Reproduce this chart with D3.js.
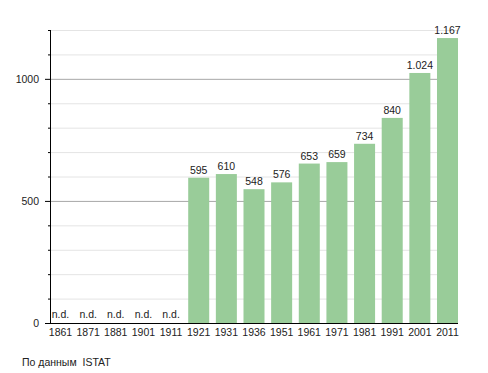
<!DOCTYPE html>
<html>
<head>
<meta charset="utf-8">
<script src="https://cdn.jsdelivr.net/npm/d3@7"></script>
<style>
  body { margin: 0; background: #fff; }
  text { font-family: "Liberation Sans", Arial, sans-serif; }
</style>
</head>
<body>
<div id="viz"></div>
<script>
const years = ['1861','1871','1881','1901','1911','1921','1931','1936','1951','1961','1971','1981','1991','2001','2011'];
const population = [null,null,null,null,null,595,610,548,576,653,659,734,840,1024,1167];
const majorTicks = [0,500,1000];
const source = 'По данным  ISTAT';

const SETTINGS = {
    width: 488,
    height: 373,
    left: 50,
    right: 458,
    top: 30,
    bottom: 323,
    fontSize: 10.5,
    barColor: '#99cc99'
};

let svg = d3.select('#viz')
    .append('svg')
    .attr('width', SETTINGS.width)
    .attr('height', SETTINGS.height);

let xScale = d3.scaleBand()
    .domain(years)
    .range([SETTINGS.left, SETTINGS.right])
    .paddingInner(0.24)
    .paddingOuter(0);

let yScale = d3.scaleLinear()
    .domain([0, 1200])
    .range([SETTINGS.bottom, SETTINGS.top]);

const allTicks = d3.range(0, 1201, 100);
const fmt = d3.formatLocale({decimal: ',', thousands: '.', grouping: [3], currency: ['', '']}).format(',d');

// grid lines
svg.selectAll('.grid')
    .data(allTicks.filter(d => d > 0))
    .enter()
    .append('line')
    .attr('class', 'grid')
    .attr('x1', SETTINGS.left)
    .attr('x2', SETTINGS.right)
    .attr('y1', d => yScale(d) + 0.5)
    .attr('y2', d => yScale(d) + 0.5)
    .attr('stroke', d => majorTicks.includes(d) ? '#a8a8a8' : '#e4e4e4')
    .attr('stroke-width', 1);

// bars
svg.selectAll('.bar')
    .data(years.map((y, i) => ({year: y, value: population[i]})).filter(d => d.value !== null))
    .enter()
    .append('rect')
    .attr('class', 'bar')
    .attr('x', d => xScale(d.year))
    .attr('y', d => yScale(d.value))
    .attr('width', xScale.bandwidth())
    .attr('height', d => SETTINGS.bottom - yScale(d.value))
    .attr('fill', SETTINGS.barColor);

// value labels (n.d. where missing)
svg.selectAll('.vals')
    .data(years.map((y, i) => ({year: y, value: population[i]})))
    .enter()
    .append('text')
    .attr('class', 'vals')
    .attr('x', d => xScale(d.year) + xScale.bandwidth() / 2)
    .attr('y', d => d.value === null ? SETTINGS.bottom - 5 : yScale(d.value) - 4)
    .attr('text-anchor', 'middle')
    .attr('font-size', SETTINGS.fontSize)
    .attr('fill', '#222')
    .text(d => d.value === null ? 'n.d.' : fmt(d.value));

// y axis
svg.append('line')
    .attr('x1', SETTINGS.left + 0.5)
    .attr('x2', SETTINGS.left + 0.5)
    .attr('y1', SETTINGS.top)
    .attr('y2', SETTINGS.bottom + 1)
    .attr('stroke', '#000');

svg.selectAll('.ytick')
    .data(allTicks)
    .enter()
    .append('line')
    .attr('class', 'ytick')
    .attr('x1', d => majorTicks.includes(d) ? SETTINGS.left - 5 : SETTINGS.left - 2)
    .attr('x2', SETTINGS.left)
    .attr('y1', d => yScale(d) + 0.5)
    .attr('y2', d => yScale(d) + 0.5)
    .attr('stroke', '#000');

svg.selectAll('.ylab')
    .data(majorTicks)
    .enter()
    .append('text')
    .attr('class', 'ylab')
    .attr('x', SETTINGS.left - 11)
    .attr('y', d => yScale(d) + 4)
    .attr('text-anchor', 'end')
    .attr('font-size', SETTINGS.fontSize)
    .attr('fill', '#222')
    .text(d => d);

// x axis
svg.append('line')
    .attr('x1', SETTINGS.left)
    .attr('x2', SETTINGS.right)
    .attr('y1', SETTINGS.bottom + 0.5)
    .attr('y2', SETTINGS.bottom + 0.5)
    .attr('stroke', '#000');

svg.selectAll('.xlab')
    .data(years)
    .enter()
    .append('text')
    .attr('class', 'xlab')
    .attr('x', d => xScale(d) + xScale.bandwidth() / 2)
    .attr('y', SETTINGS.bottom + 13)
    .attr('text-anchor', 'middle')
    .attr('font-size', SETTINGS.fontSize)
    .attr('fill', '#222')
    .text(d => d);

svg.append('text')
    .attr('x', 22)
    .attr('y', 366)
    .attr('font-size', SETTINGS.fontSize)
    .attr('fill', '#222')
    .style('white-space', 'pre')
    .text(source);
</script>
</body>
</html>
